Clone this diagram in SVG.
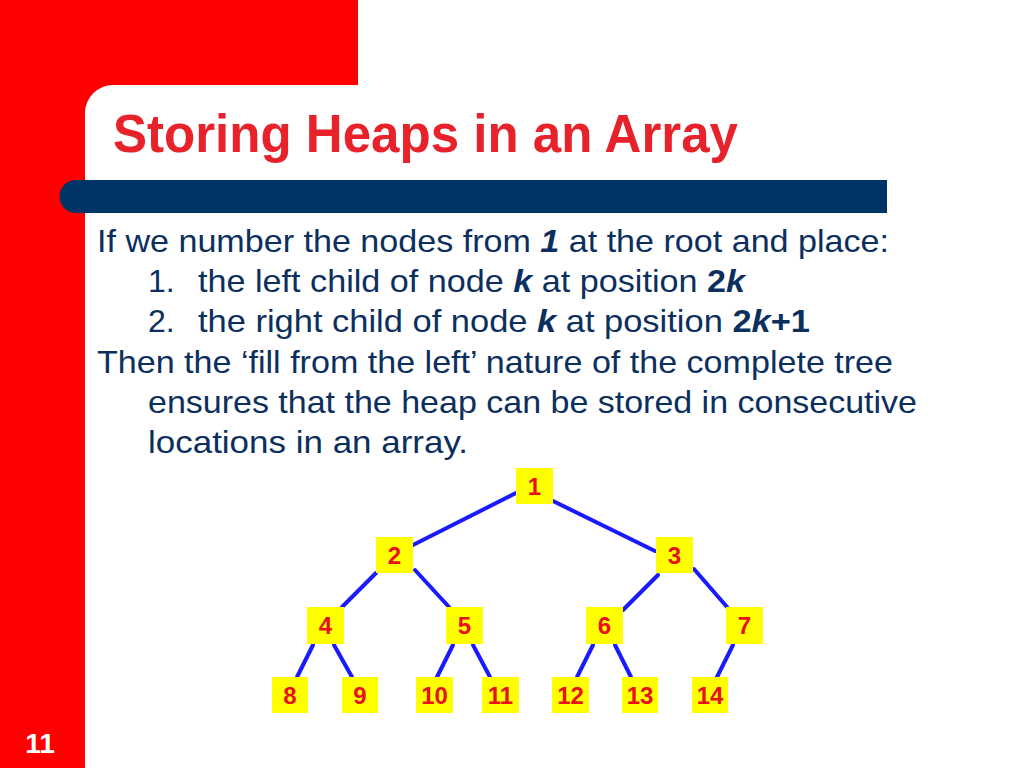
<svg xmlns="http://www.w3.org/2000/svg" width="1024" height="768" viewBox="0 0 1024 768">
<style>
.body{font-family:"Liberation Sans",Arial,sans-serif;font-size:32px;fill:#0c2f5e}
.b{font-weight:bold}
.bi{font-weight:bold;font-style:italic}
.box{fill:#ffff00}
.lbl{font-family:"Liberation Sans",Arial,sans-serif;font-size:24px;font-weight:bold;fill:#e8101a;text-anchor:middle}
.edge{stroke:#1a1aff;stroke-width:4;stroke-linecap:round}
</style>
<rect width="1024" height="768" fill="#ffffff"/>
<g id="background">
<path d="M0 0H358V85H113A28 28 0 0 0 85 113V768H0Z" fill="#ff0000"/>
<path d="M76 180H887V213H76A16.5 16.5 0 0 1 76 180Z" fill="#003366"/>
<text x="113" y="152" font-family="'Liberation Sans',Arial,sans-serif" font-size="53" font-weight="bold" fill="#e8222a" textLength="625" lengthAdjust="spacingAndGlyphs">Storing Heaps in an Array</text>
<text x="40" y="753" font-family="'Liberation Sans',Arial,sans-serif" font-size="28" font-weight="bold" fill="#ffffff" text-anchor="middle">11</text>
</g>
<g id="text">
<text class="body" x="97" y="252" textLength="792" lengthAdjust="spacingAndGlyphs">If we number the nodes from <tspan class="bi">1</tspan> at the root and place:</text>
<text class="body" x="148" y="292">1.</text>
<text class="body" x="198" y="292" textLength="547" lengthAdjust="spacingAndGlyphs">the left child of node <tspan class="bi">k</tspan> at position <tspan class="b">2</tspan><tspan class="bi">k</tspan></text>
<text class="body" x="148" y="332">2.</text>
<text class="body" x="198" y="332" textLength="612" lengthAdjust="spacingAndGlyphs">the right child of node <tspan class="bi">k</tspan> at position <tspan class="b">2</tspan><tspan class="bi">k</tspan><tspan class="b">+1</tspan></text>
<text class="body" x="97" y="373" textLength="796" lengthAdjust="spacingAndGlyphs">Then the ‘fill from the left’ nature of the complete tree</text>
<text class="body" x="148" y="413" textLength="769" lengthAdjust="spacingAndGlyphs">ensures that the heap can be stored in consecutive</text>
<text class="body" x="148" y="453" textLength="320" lengthAdjust="spacingAndGlyphs">locations in an array.</text>
</g>
<g id="connectors">
<line class="edge" x1="516" y1="493" x2="413" y2="545"/>
<line class="edge" x1="553" y1="501" x2="655" y2="551"/>
<line class="edge" x1="376" y1="573" x2="342" y2="607"/>
<line class="edge" x1="415" y1="570" x2="449" y2="607"/>
<line class="edge" x1="658" y1="575" x2="623" y2="610"/>
<line class="edge" x1="694" y1="569" x2="727" y2="607"/>
<line class="edge" x1="313" y1="645" x2="297" y2="677"/>
<line class="edge" x1="334" y1="645" x2="352" y2="677"/>
<line class="edge" x1="453" y1="645" x2="437" y2="677"/>
<line class="edge" x1="473" y1="645" x2="490" y2="677"/>
<line class="edge" x1="593" y1="645" x2="577" y2="677"/>
<line class="edge" x1="615" y1="645" x2="631" y2="677"/>
<line class="edge" x1="733" y1="645" x2="717" y2="677"/>
</g>
<g id="n1"><rect class="box" x="516" y="468" width="37" height="36"/><text class="lbl" x="534.5" y="494.5">1</text></g>
<g id="n2"><rect class="box" x="376" y="537" width="37" height="36"/><text class="lbl" x="394.5" y="563.5">2</text></g>
<g id="n3"><rect class="box" x="656" y="537" width="37" height="36"/><text class="lbl" x="674.5" y="563.5">3</text></g>
<g id="n4"><rect class="box" x="307" y="607" width="37" height="37"/><text class="lbl" x="325.5" y="634">4</text></g>
<g id="n5"><rect class="box" x="446" y="607" width="37" height="37"/><text class="lbl" x="464.5" y="634">5</text></g>
<g id="n6"><rect class="box" x="586" y="607" width="37" height="37"/><text class="lbl" x="604.5" y="634">6</text></g>
<g id="n7"><rect class="box" x="726" y="607" width="37" height="37"/><text class="lbl" x="744.5" y="634">7</text></g>
<g id="n8"><rect class="box" x="272" y="677" width="36" height="36"/><text class="lbl" x="290" y="703.5">8</text></g>
<g id="n9"><rect class="box" x="342" y="677" width="36" height="36"/><text class="lbl" x="360" y="703.5">9</text></g>
<g id="n10"><rect class="box" x="416" y="677" width="37" height="36"/><text class="lbl" x="434.5" y="703.5">10</text></g>
<g id="n11"><rect class="box" x="482" y="677" width="37" height="36"/><text class="lbl" x="500.5" y="703.5">11</text></g>
<g id="n12"><rect class="box" x="552" y="677" width="37" height="36"/><text class="lbl" x="570.5" y="703.5">12</text></g>
<g id="n13"><rect class="box" x="622" y="677" width="36" height="36"/><text class="lbl" x="640" y="703.5">13</text></g>
<g id="n14"><rect class="box" x="692" y="677" width="36" height="36"/><text class="lbl" x="710" y="703.5">14</text></g>
</svg>
